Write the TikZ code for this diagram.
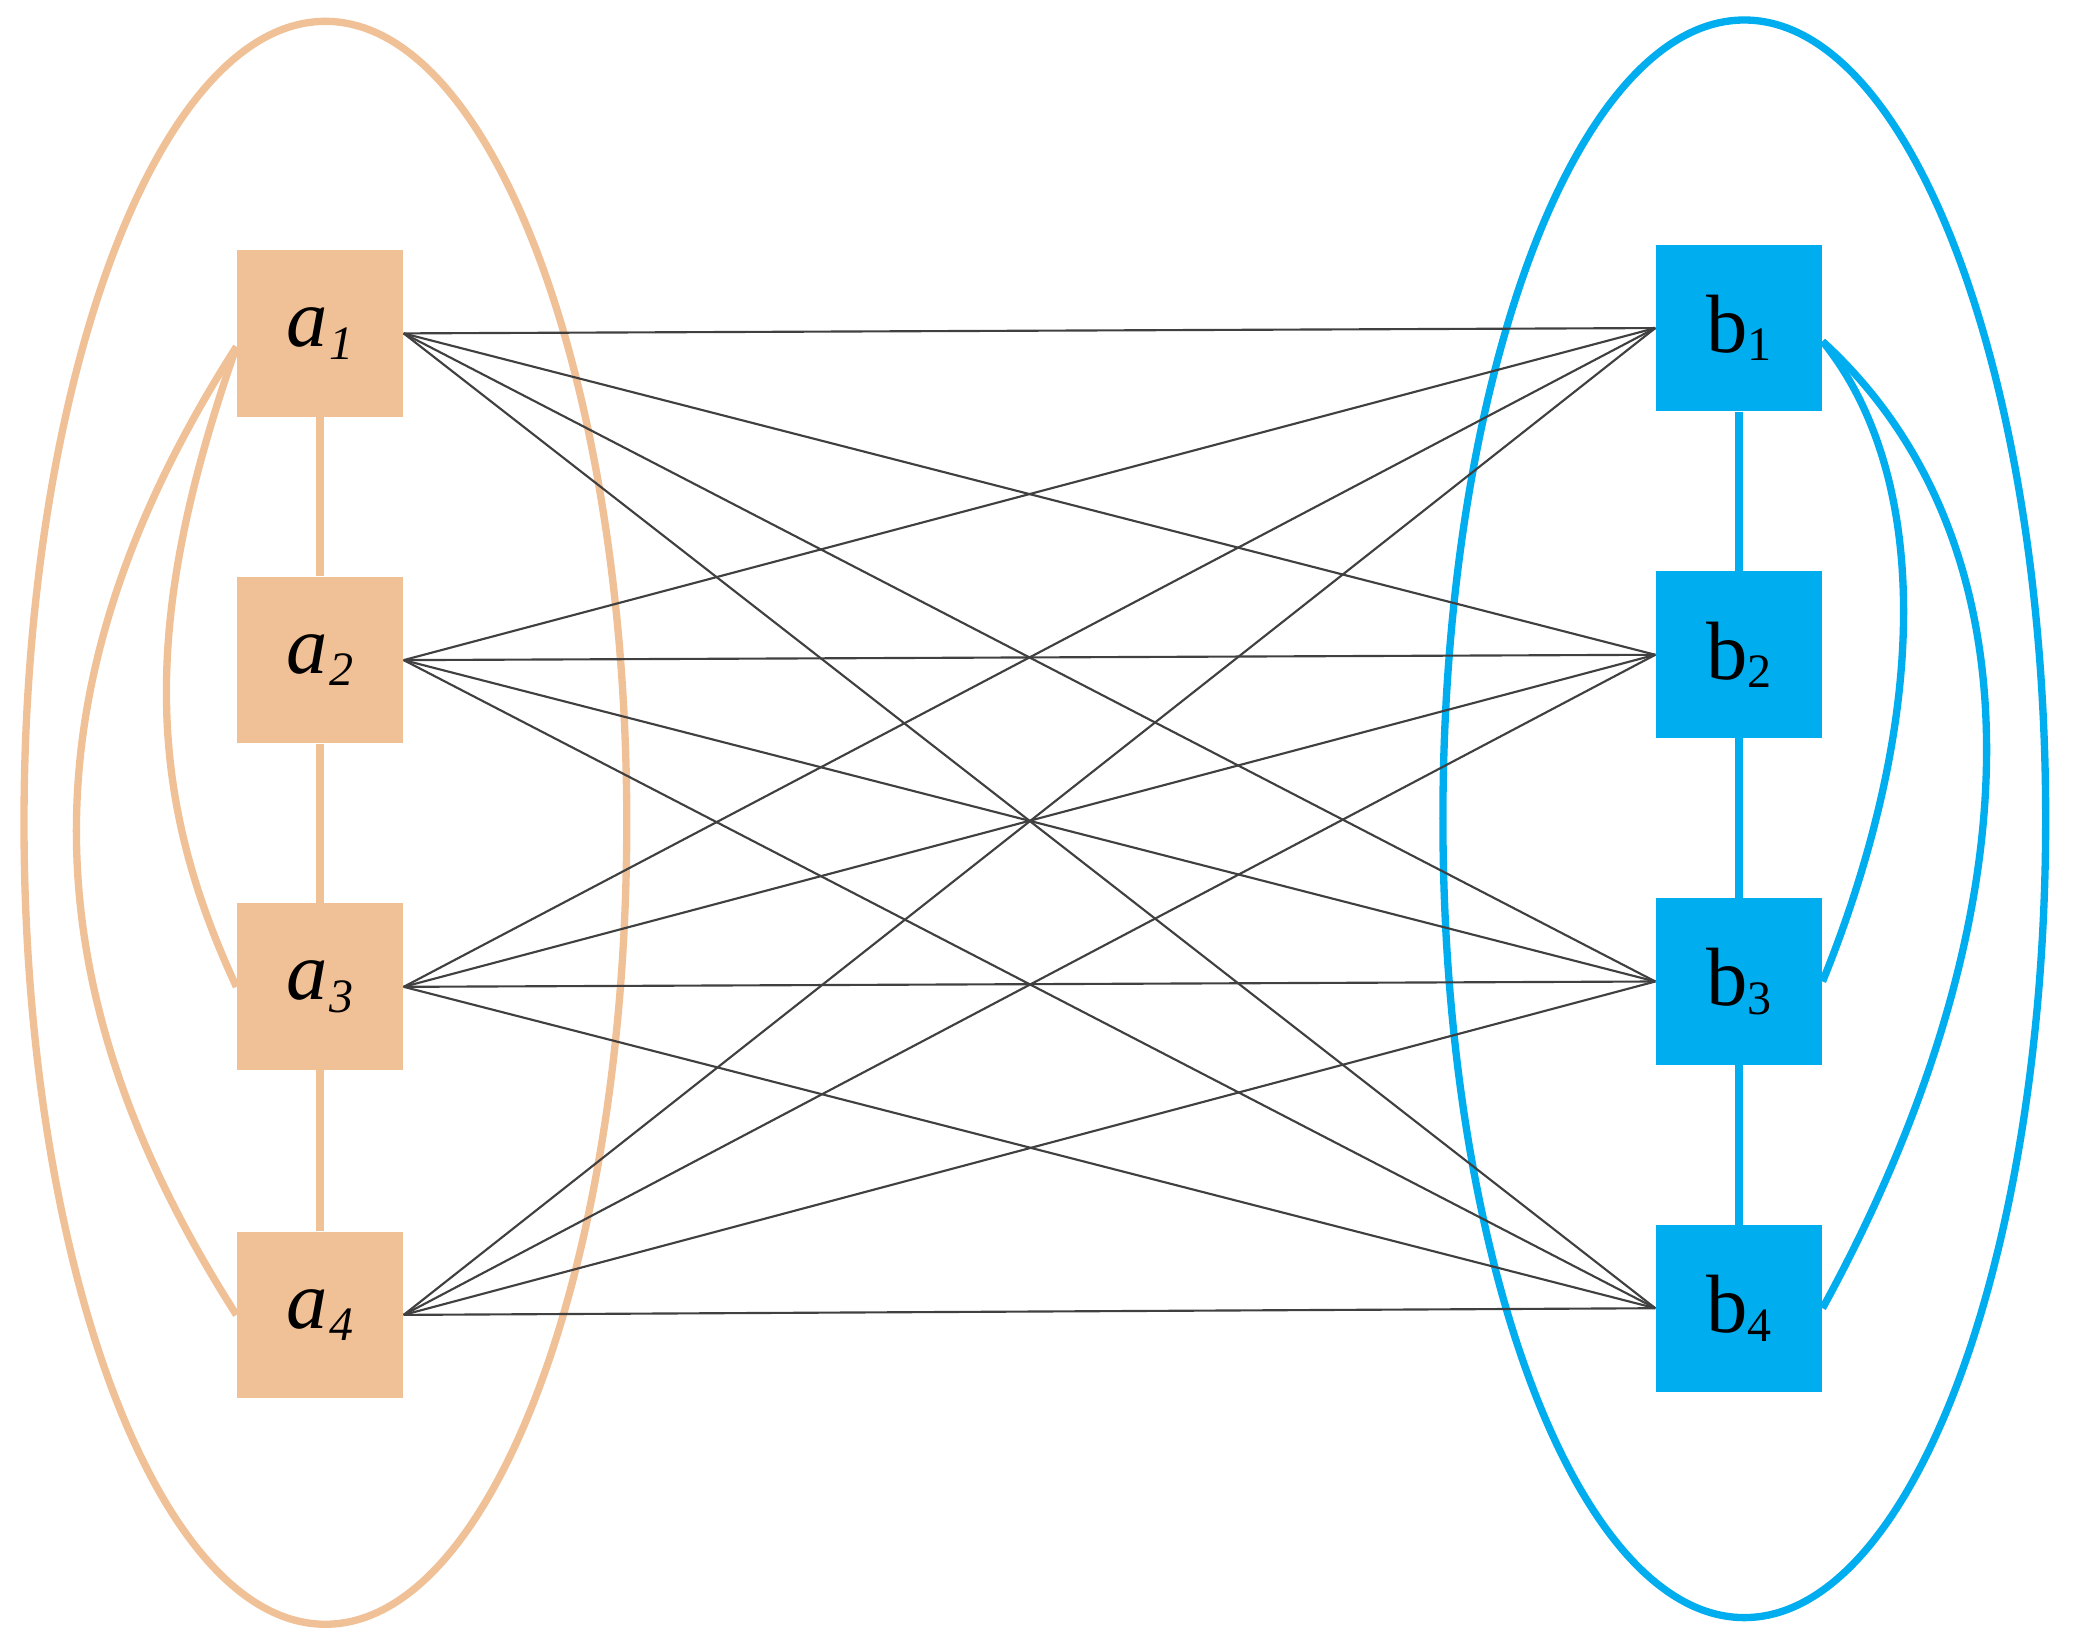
\documentclass[tikz,border=0pt]{standalone}
\usepackage{fontspec}
\setmainfont{Liberation Serif}
\begin{document}
\begin{tikzpicture}[x=1pt,y=-1pt,
  peach/.style={fill=apeach,draw=none,minimum size=125pt,inner sep=0pt,font=\fontsize{62}{62}\selectfont},
  blue/.style={fill=bblue,draw=none,minimum size=125pt,inner sep=0pt,font=\fontsize{62}{62}\selectfont},
  cl/.style={draw=black!75,line width=1.6pt}]
\definecolor{apeach}{HTML}{F0C096}
\definecolor{bblue}{HTML}{00AEEF}
\useasboundingbox (0,0) rectangle (1568,1230.6);
\draw[apeach,line width=5.5pt] (244,617) ellipse [x radius=226,y radius=601];
\draw[bblue,line width=5.5pt] (1308,614) ellipse [x radius=226,y radius=599];
\foreach \i/\y in {1/250,2/495,3/740,4/986}{
  \node[peach] (a\i) at (240,\y) {\textit{a\kern1pt\raisebox{-0.15em}{\fontsize{36}{36}\selectfont\i}}};
}
\foreach \i/\y in {1/246,2/491,3/736,4/981}{
  \node[blue] (b\i) at (1304,\y) {b\raisebox{-0.1em}{\fontsize{36}{36}\selectfont\i}};
}
\foreach \i/\j in {1/2,2/3,3/4}{
  \draw[apeach,line width=5.5pt] (a\i) -- (a\j);
  \draw[bblue,line width=5.5pt] (b\i) -- (b\j);
}
\draw[apeach,line width=5.5pt] ([yshift=-10pt]a1.west) .. controls +(-70,200) and +(-70,-150) .. (a3.west);
\draw[apeach,line width=5.5pt] ([yshift=-10pt]a1.west) .. controls +(-160,250) and +(-160,-250) .. (a4.west);
\draw[bblue,line width=5.5pt] ([yshift=-10pt]b1.east) .. controls +(81,100) and +(81,-200) .. (b3.east);
\draw[bblue,line width=5.5pt] ([yshift=-10pt]b1.east) .. controls +(164,150) and +(164,-300) .. (b4.east);
\foreach \i in {1,...,4}{\foreach \j in {1,...,4}{
  \draw[cl] (a\i.east) -- (b\j.west);
}}
\end{tikzpicture}
\end{document}
